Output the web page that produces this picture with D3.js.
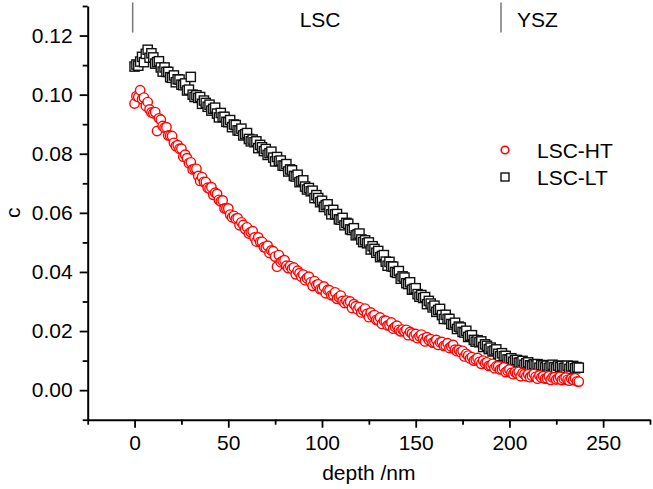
<!DOCTYPE html>
<html>
<head>
<meta charset="utf-8">
<script src="https://cdn.jsdelivr.net/npm/d3@7"></script>
<style>
  html, body { margin: 0; padding: 0; background: #fff; }
  svg { display: block; }
  text { font-family: "Liberation Sans", Arial, sans-serif; }
</style>
</head>
<body>
<svg id="chart" width="653" height="489"></svg>
<script>
// ---------------- data ----------------
const depth = [
  0,1,2,3,4,5,6,7,8,9,10,11,12,13,14,15,16,17,18,19,
  20,21,22,23,24,25,26,27,28,29,30,31,32,33,34,35,36,37,38,39,
  40,41,42,43,44,45,46,47,48,49,50,51,52,53,54,55,56,57,58,59,
  60,61,62,63,64,65,66,67,68,69,70,71,72,73,74,75,76,77,78,79,
  80,81,82,83,84,85,86,87,88,89,90,91,92,93,94,95,96,97,98,99,
  100,101,102,103,104,105,106,107,108,109,110,111,112,113,114,115,116,117,118,119,
  120,121,122,123,124,125,126,127,128,129,130,131,132,133,134,135,136,137,138,139,
  140,141,142,143,144,145,146,147,148,149,150,151,152,153,154,155,156,157,158,159,
  160,161,162,163,164,165,166,167,168,169,170,171,172,173,174,175,176,177,178,179,
  180,181,182,183,184,185,186,187,188,189,190,191,192,193,194,195,196,197,198,199,
  200,201,202,203,204,205,206,207,208,209,210,211,212,213,214,215,216,217,218,219,
  220,221,222,223,224,225,226,227,228,229,230,231,232,233,234,235,236,237
];

const lscHT = [
  0.0970,0.0995,0.0992,0.1015,0.0985,0.0990,0.0962,0.0975,0.0950,0.0940,
  0.0937,0.0941,0.0877,0.0920,0.0915,0.0894,0.0888,0.0890,0.0862,0.0861,
  0.0860,0.0837,0.0826,0.0829,0.0817,0.0817,0.0790,0.0797,0.0785,0.0768,
  0.0771,0.0747,0.0749,0.0749,0.0725,0.0708,0.0721,0.0705,0.0704,0.0685,
  0.0682,0.0687,0.0661,0.0668,0.0664,0.0644,0.0639,0.0642,0.0615,0.0615,
  0.0615,0.0594,0.0585,0.0590,0.0580,0.0582,0.0558,0.0568,0.0559,0.0545,
  0.0551,0.0530,0.0535,0.0538,0.0517,0.0503,0.0517,0.0502,0.0502,0.0484,
  0.0482,0.0489,0.0464,0.0473,0.0470,0.0452,0.0418,0.0457,0.0433,0.0437,
  0.0440,0.0421,0.0413,0.0420,0.0411,0.0415,0.0392,0.0404,0.0396,0.0384,
  0.0391,0.0372,0.0379,0.0384,0.0365,0.0353,0.0369,0.0356,0.0358,0.0342,
  0.0342,0.0351,0.0328,0.0339,0.0338,0.0321,0.0322,0.0331,0.0309,0.0315,
  0.0320,0.0302,0.0295,0.0303,0.0295,0.0300,0.0278,0.0291,0.0284,0.0273,
  0.0281,0.0263,0.0270,0.0276,0.0258,0.0247,0.0263,0.0251,0.0254,0.0238,
  0.0237,0.0246,0.0224,0.0235,0.0235,0.0219,0.0220,0.0229,0.0208,0.0214,
  0.0218,0.0204,0.0199,0.0205,0.0199,0.0204,0.0186,0.0197,0.0192,0.0183,
  0.0190,0.0176,0.0183,0.0188,0.0174,0.0165,0.0179,0.0170,0.0173,0.0161,
  0.0163,0.0170,0.0153,0.0162,0.0163,0.0150,0.0151,0.0159,0.0143,0.0148,
  0.0153,0.0137,0.0132,0.0136,0.0129,0.0133,0.0114,0.0123,0.0117,0.0107,
  0.0112,0.0100,0.0104,0.0109,0.0096,0.0089,0.0100,0.0091,0.0094,0.0082,
  0.0083,0.0089,0.0074,0.0081,0.0081,0.0070,0.0071,0.0077,0.0061,0.0066,
  0.0070,0.0058,0.0054,0.0061,0.0057,0.0062,0.0047,0.0058,0.0054,0.0047,
  0.0054,0.0044,0.0049,0.0055,0.0045,0.0039,0.0050,0.0043,0.0047,0.0039,
  0.0040,0.0047,0.0035,0.0043,0.0044,0.0036,0.0039,0.0045,0.0034,0.0039,
  0.0043,0.0035,0.0032,0.0039,0.0035,0.0040,0.0030,0.0029
];

const lscLT = [
  0.1095,0.1102,0.1098,0.1112,0.1128,0.1110,0.1138,0.1152,0.1125,0.1140,
  0.1126,0.1105,0.1110,0.1113,0.1092,0.1078,0.1092,0.1077,0.1077,0.1059,
  0.1057,0.1065,0.1042,0.1052,0.1051,0.1034,0.1032,0.1038,0.1014,0.1017,
  0.1060,0.1000,0.0992,0.0998,0.0989,0.0992,0.0969,0.0980,0.0972,0.0959,
  0.0966,0.0946,0.0952,0.0956,0.0936,0.0923,0.0938,0.0924,0.0925,0.0908,
  0.0907,0.0914,0.0890,0.0899,0.0897,0.0879,0.0878,0.0885,0.0862,0.0866,
  0.0870,0.0850,0.0842,0.0848,0.0839,0.0842,0.0819,0.0830,0.0822,0.0809,
  0.0816,0.0796,0.0802,0.0807,0.0787,0.0774,0.0789,0.0775,0.0777,0.0760,
  0.0759,0.0765,0.0740,0.0747,0.0744,0.0725,0.0723,0.0729,0.0704,0.0707,
  0.0710,0.0689,0.0679,0.0684,0.0673,0.0675,0.0650,0.0660,0.0650,0.0636,
  0.0641,0.0620,0.0626,0.0629,0.0609,0.0595,0.0610,0.0595,0.0596,0.0578,
  0.0577,0.0583,0.0558,0.0566,0.0563,0.0544,0.0542,0.0548,0.0524,0.0527,
  0.0530,0.0510,0.0501,0.0507,0.0497,0.0500,0.0476,0.0487,0.0478,0.0465,
  0.0471,0.0450,0.0454,0.0457,0.0435,0.0421,0.0434,0.0419,0.0418,0.0400,
  0.0397,0.0403,0.0377,0.0385,0.0381,0.0362,0.0359,0.0365,0.0340,0.0343,
  0.0345,0.0325,0.0316,0.0322,0.0312,0.0315,0.0291,0.0302,0.0293,0.0280,
  0.0286,0.0265,0.0271,0.0275,0.0254,0.0241,0.0255,0.0241,0.0241,0.0224,
  0.0222,0.0228,0.0207,0.0215,0.0212,0.0197,0.0195,0.0201,0.0180,0.0184,
  0.0186,0.0170,0.0164,0.0169,0.0162,0.0165,0.0146,0.0155,0.0150,0.0139,
  0.0144,0.0131,0.0134,0.0138,0.0123,0.0115,0.0125,0.0115,0.0116,0.0104,
  0.0103,0.0108,0.0096,0.0102,0.0102,0.0093,0.0094,0.0099,0.0086,0.0091,
  0.0094,0.0084,0.0081,0.0088,0.0084,0.0088,0.0076,0.0085,0.0083,0.0077,
  0.0083,0.0075,0.0081,0.0086,0.0078,0.0073,0.0083,0.0078,0.0082,0.0075,
  0.0076,0.0083,0.0072,0.0080,0.0082,0.0074,0.0078,0.0076
];

const seriesNames = ["LSC-HT", "LSC-LT"];
const xMajorTicks = [0, 50, 100, 150, 200, 250];
const xMinorTicks = [-25, 25, 75, 125, 175, 225, 275];
const yMajorTicks = [0, 0.02, 0.04, 0.06, 0.08, 0.10, 0.12];
const yMinorTicks = [-0.01, 0.01, 0.03, 0.05, 0.07, 0.09, 0.11, 0.13];
const regionLabels = ["LSC", "YSZ"];
const regionLabelDepths = [99, 204];
const regionBoundaries = [-1, 195.5];
const xTitle = "depth /nm";
const yTitle = "c";

// ---------------- drawing ----------------
const svg = d3.select("#chart");
const FONT = 21;

const x = d3.scaleLinear().domain([-25, 275]).range([87.7, 650]);
const y = d3.scaleLinear().domain([-0.01, 0.13]).range([419.7, 6]);

const axisG = svg.append("g");

function styleAxis(g) {
  g.selectAll("path.domain").attr("stroke", "#000").attr("stroke-width", 2);
  g.selectAll(".tick line").attr("stroke", "#000").attr("stroke-width", 1.8);
  g.selectAll(".tick text").attr("fill", "#000")
    .style("font-size", FONT + "px")
    .style("font-family", '"Liberation Sans", Arial, sans-serif');
}

// X axis
const gxMinor = axisG.append("g").attr("transform", `translate(0,${y.range()[0]})`)
  .call(d3.axisBottom(x).tickValues(xMinorTicks).tickSize(5).tickSizeOuter(0).tickFormat(""));
gxMinor.select("path.domain").remove();
styleAxis(gxMinor);
const gx = axisG.append("g").attr("transform", `translate(0,${y.range()[0]})`)
  .call(d3.axisBottom(x).tickValues(xMajorTicks).tickSize(8).tickSizeOuter(0).tickPadding(7)
    .tickFormat(d3.format("d")));
styleAxis(gx);

// Y axis
const gyMinor = axisG.append("g").attr("transform", `translate(${x.range()[0]},0)`)
  .call(d3.axisLeft(y).tickValues(yMinorTicks).tickSize(5).tickSizeOuter(0).tickFormat(""));
gyMinor.select("path.domain").remove();
styleAxis(gyMinor);
const gy = axisG.append("g").attr("transform", `translate(${x.range()[0]},0)`)
  .call(d3.axisLeft(y).tickValues(yMajorTicks).tickSize(8).tickSizeOuter(0).tickPadding(7)
    .tickFormat(d3.format(".2f")));
styleAxis(gy);

// axis titles
svg.append("text")
  .attr("x", (x.range()[0] + x.range()[1]) / 2)
  .attr("y", 480)
  .attr("text-anchor", "middle")
  .style("font-size", FONT + "px")
  .text(xTitle);

svg.append("text")
  .attr("transform", `translate(19.5,${(y.range()[0] + y.range()[1]) / 2}) rotate(-90)`)
  .attr("text-anchor", "middle")
  .style("font-size", FONT + "px")
  .text(yTitle);

// region annotations
svg.append("g").selectAll("line")
  .data(regionBoundaries)
  .join("line")
  .attr("x1", d => x(d)).attr("x2", d => x(d))
  .attr("y1", y(0.1312)).attr("y2", y(0.1210))
  .attr("stroke", "#777").attr("stroke-width", 1.5);

svg.append("g").selectAll("text")
  .data(regionLabels)
  .join("text")
  .attr("x", (d, i) => x(regionLabelDepths[i]))
  .attr("y", 27)
  .attr("text-anchor", (d, i) => i === 0 ? "middle" : "start")
  .style("font-size", FONT + "px")
  .text(d => d);

// data: LT squares first, then HT circles on top
const SQ = 9.2;
svg.append("g").selectAll("rect")
  .data(depth.map((d, i) => [d, lscLT[i]]))
  .join("rect")
  .attr("x", d => x(d[0]) - SQ / 2)
  .attr("y", d => y(d[1]) - SQ / 2)
  .attr("width", SQ).attr("height", SQ)
  .attr("fill", "#fff")
  .attr("stroke", "#111")
  .attr("stroke-width", 1.4);

svg.append("g").selectAll("circle")
  .data(depth.map((d, i) => [d, lscHT[i]]))
  .join("circle")
  .attr("cx", d => x(d[0]))
  .attr("cy", d => y(d[1]))
  .attr("r", 4.7)
  .attr("fill", "#fff")
  .attr("stroke", "#ff0000")
  .attr("stroke-width", 1.4);

// legend
const legend = svg.append("g");
const legendY = [150, 177];
legend.append("circle")
  .attr("cx", 505).attr("cy", legendY[0]).attr("r", 3.8)
  .attr("fill", "#fff").attr("stroke", "#ff0000").attr("stroke-width", 1.6);
legend.append("rect")
  .attr("x", 505 - 4).attr("y", legendY[1] - 4).attr("width", 8).attr("height", 8)
  .attr("fill", "#fff").attr("stroke", "#111").attr("stroke-width", 1.4);
legend.selectAll("text")
  .data(seriesNames)
  .join("text")
  .attr("x", 537)
  .attr("y", (d, i) => legendY[i])
  .attr("dy", "0.36em")
  .style("font-size", FONT + "px")
  .text(d => d);
</script>
</body>
</html>
